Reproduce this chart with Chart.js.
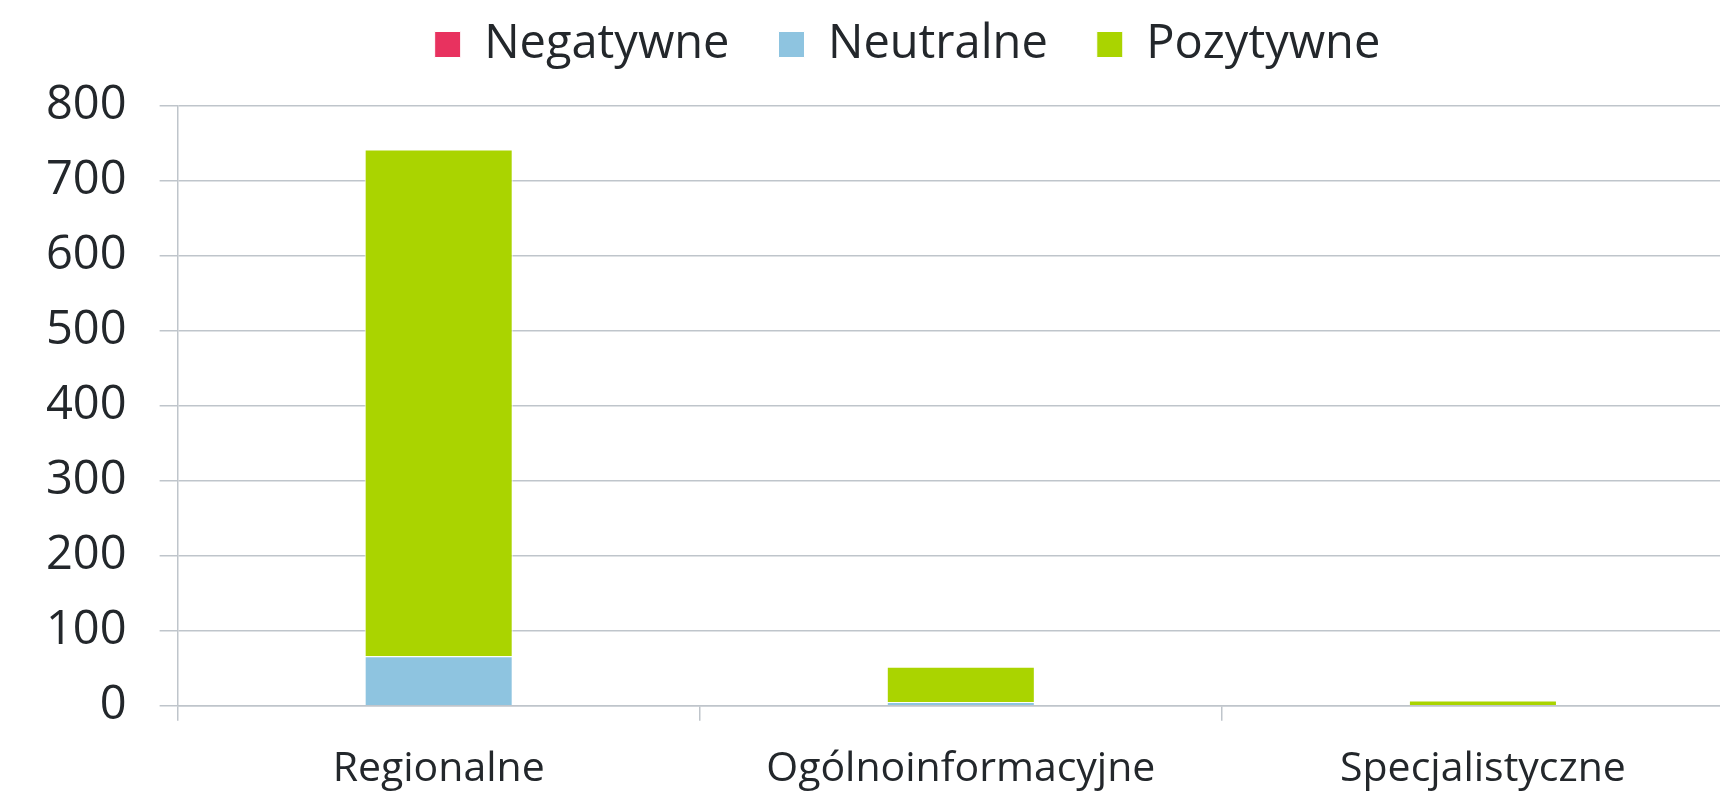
<!DOCTYPE html>
<html>
<head>
<meta charset="utf-8">
<script src="https://cdn.jsdelivr.net/npm/chart.js@4.4.1/dist/chart.umd.min.js"></script>
<style>
  html, body { margin: 0; padding: 0; overflow: hidden; background: #ffffff; }
  #wrap { width: 1816px; height: 793px; }
</style>
</head>
<body>
<div id="wrap"><canvas id="c" width="1816" height="793"></canvas></div>
<script>
const categories = ['Regionalne', 'Ogólnoinformacyjne', 'Specjalistyczne'];
const negatywne = [0, 0, 0];
const neutralne = [66, 5, 1];
const pozytywne = [676, 47, 6];
const yTicks = [0, 100, 200, 300, 400, 500, 600, 700, 800];

const textColor = '#23272b';
const gridColor = '#bfc5cb';
const fontFamily = '"Open Sans", sans-serif';

const legendTweak = {
  id: 'legendTweak',
  beforeInit(chart) {
    const lg = chart.legend;
    if (!lg) return;
    const origFit = lg.fit.bind(lg);
    lg.fit = function () { origFit(); this.height = 106; };
    const origDraw = lg.draw.bind(lg);
    lg.draw = function () {
      const c = this.ctx;
      c.save();
      c.translate(29, -28);
      origDraw();
      c.restore();
    };
  }
};

new Chart(document.getElementById('c'), {
  type: 'bar',
  data: {
    labels: categories,
    datasets: [
      { label: 'Negatywne', data: negatywne, backgroundColor: '#e8325f', borderColor: '#ffffff', borderWidth: 1 },
      { label: 'Neutralne', data: neutralne, backgroundColor: '#8ec4e0', borderColor: '#ffffff', borderWidth: 1 },
      { label: 'Pozytywne', data: pozytywne, backgroundColor: '#aad400', borderColor: '#ffffff', borderWidth: 1 }
    ]
  },
  plugins: [legendTweak],
  options: {
    responsive: false,
    animation: false,
    devicePixelRatio: 1,
    layout: { padding: { left: 13, right: 72, top: 0, bottom: -25 } },
    datasets: { bar: { barPercentage: 0.2835, categoryPercentage: 1.0 } },
    plugins: {
      legend: {
        position: 'top',
        labels: {
          boxWidth: 26, boxHeight: 26, padding: 49,
          color: textColor,
          font: { family: fontFamily, size: 47 }
        }
      },
      tooltip: { enabled: false }
    },
    scales: {
      x: {
        stacked: true,
        grid: { display: true, drawOnChartArea: false, drawTicks: true, tickLength: 15, color: gridColor, lineWidth: 1.5, offset: true },
        border: { display: true, color: gridColor, width: 1.5 },
        ticks: { color: textColor, font: { family: fontFamily, size: 41 }, padding: 24, maxRotation: 0 }
      },
      y: {
        stacked: true,
        min: 0, max: 800,
        afterBuildTicks: (axis) => { axis.ticks = yTicks.map(v => ({ value: v })); },
        grid: { color: gridColor, lineWidth: 1.5, drawTicks: true, tickLength: 18 },
        border: { display: true, color: gridColor, width: 1.5 },
        ticks: { color: textColor, font: { family: fontFamily, size: 47 }, padding: 33 }
      }
    }
  }
});
</script>
</body>
</html>
